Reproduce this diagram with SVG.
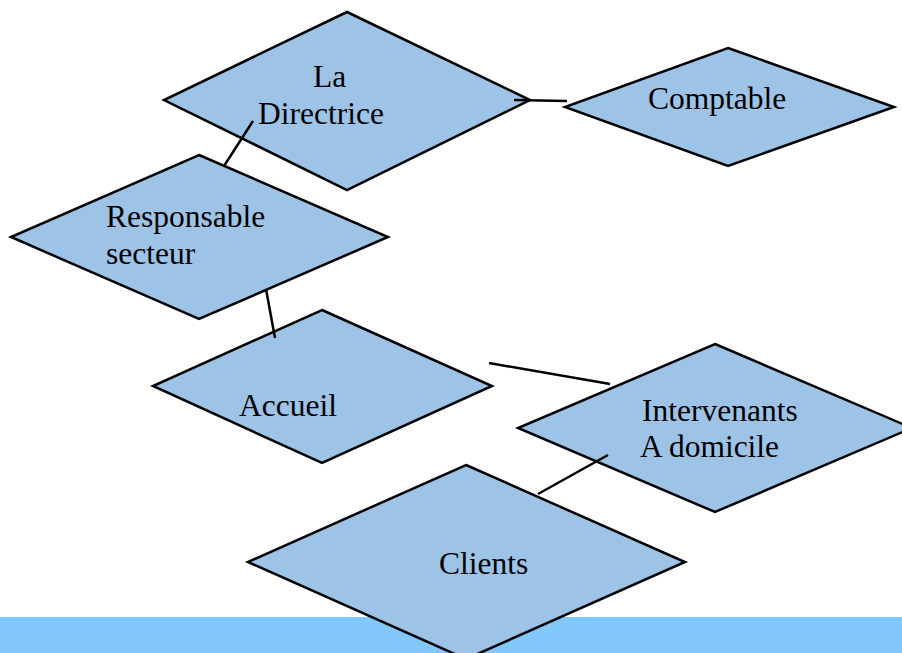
<svg xmlns="http://www.w3.org/2000/svg" width="902" height="653" viewBox="0 0 902 653">
<style>
.n{fill:#9DC3E6;stroke:#000;stroke-width:2.5;stroke-linejoin:miter}
.t{font-family:"Liberation Serif","Times New Roman",serif;font-size:31.5px;fill:#000}
.c{stroke:#000;stroke-width:2.5;fill:none}
</style>
<rect x="0" y="0" width="902" height="653" fill="#fff"/>
<rect id="band" x="0" y="617" width="902" height="36" fill="#83C8FC"/>
<g id="directrice"><polygon class="n" points="347,12 530,100 347,190 164,100"/><text class="t" x="313" y="87">La</text><text class="t" x="258" y="124">Directrice</text></g>
<g id="comptable"><polygon class="n" points="728,48 894,107 728,166 565,107"/><text class="t" x="648" y="109">Comptable</text></g>
<g id="responsable"><polygon class="n" points="199,155 388,237 199,319 11,237"/><text class="t" x="106" y="227">Responsable</text><text class="t" x="106" y="264">secteur</text></g>
<g id="accueil"><polygon class="n" points="322,310 492,386 322,463 153,386"/><text class="t" x="239" y="416">Accueil</text></g>
<g id="intervenants"><polygon class="n" points="715,344 912,428 715,512 518,428"/><text class="t" x="642" y="421">Intervenants</text><text class="t" x="640" y="457">A domicile</text></g>
<g id="clients"><polygon class="n" points="466,465 685,562 466,659 248,562"/><text class="t" x="439" y="574">Clients</text></g>
<g id="connectors">
<line class="c" x1="514" y1="100" x2="567" y2="101"/>
<line class="c" x1="253" y1="121" x2="224" y2="166"/>
<line class="c" x1="266" y1="289" x2="275" y2="338"/>
<line class="c" x1="489" y1="363" x2="610" y2="384"/>
<line class="c" x1="608" y1="455" x2="538" y2="494"/>
</g>
</svg>
